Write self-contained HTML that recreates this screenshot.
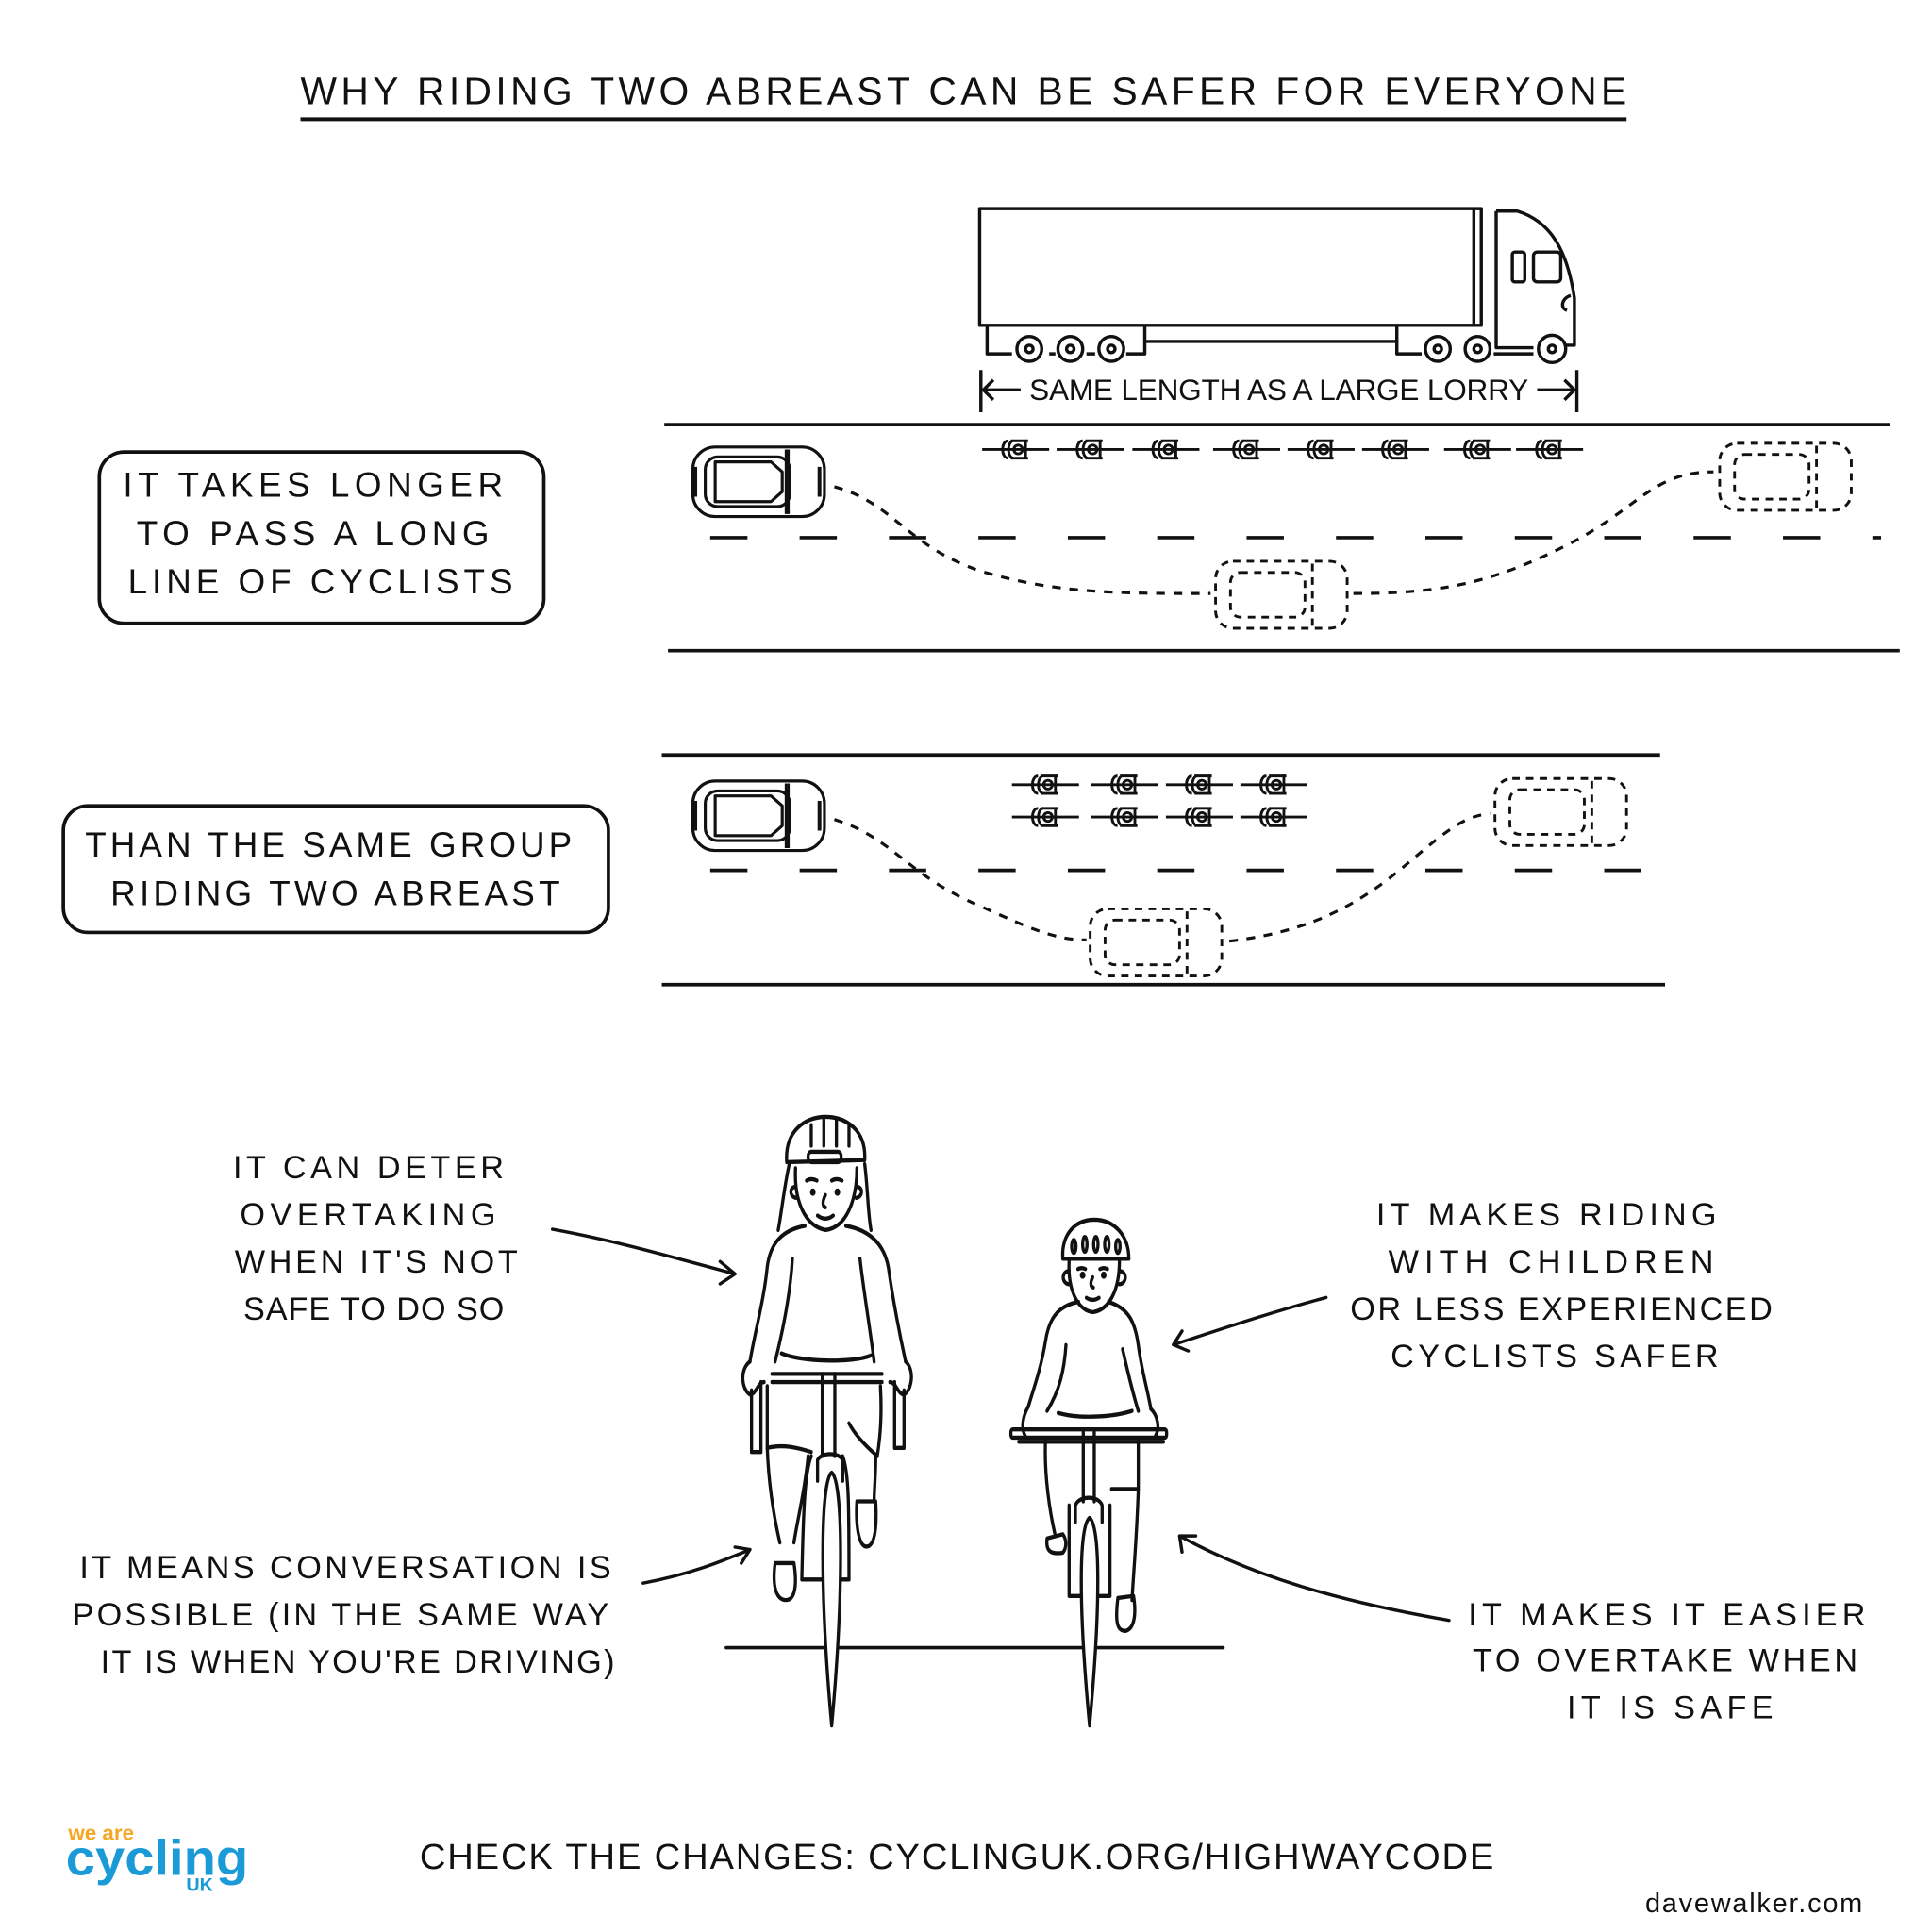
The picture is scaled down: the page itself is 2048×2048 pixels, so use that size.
<!DOCTYPE html>
<html><head><meta charset="utf-8">
<style>
html,body{margin:0;padding:0;background:#fff;}
svg{display:block;}
text{font-family:"Liberation Sans Narrow","Liberation Sans",sans-serif;fill:#111;}
</style></head>
<body>
<svg width="2048" height="2048" viewBox="0 0 1556 1556" xmlns="http://www.w3.org/2000/svg">
<defs>
<g id="car" fill="none" stroke="#111" stroke-width="2.4" stroke-linejoin="round">
 <rect x="2" y="2" width="106" height="56" rx="18"/>
 <rect x="12" y="10" width="68" height="40" rx="10"/>
 <path d="M20,14 H65 L74,22 V38 L65,46 H20 Z"/>
 <path d="M78,4 V56" stroke-width="4"/>
 <path d="M4,18 V42 M104,18 V42" stroke-width="3"/>
</g>
<g id="ghost" fill="none" stroke="#111" stroke-width="2.2" stroke-dasharray="6,5">
 <rect x="2" y="2" width="106" height="54" rx="14"/>
 <rect x="14" y="11" width="60" height="36" rx="8"/>
 <path d="M80,4 V54"/>
</g>
<g id="bike" fill="none" stroke="#111" stroke-width="2.2">
 <path d="M-27,0 H27"/>
 <path d="M-4,-7 H10 M-4,7 H10 M-6,-7 C-12,-7 -12,7 -6,7 M-2,-7 C-7,-6 -7,6 -2,7"/>
 <circle cx="2" cy="0" r="3.5"/>
 <path d="M8,-8 V8"/>
</g>
</defs>

<text x="776" y="84" font-size="31" text-anchor="middle" textLength="1068" lengthAdjust="spacing">WHY RIDING TWO ABREAST CAN BE SAFER FOR EVERYONE</text>
<path d="M242,96 H1310" stroke="#111" stroke-width="3"/>

<g fill="none" stroke="#111" stroke-width="2.6" stroke-linejoin="round">
 <rect x="789" y="168" width="404" height="94"/>
 <path d="M1187,168 V262"/>
 <path d="M1205,170 H1222 C1248,178 1262,200 1268,240 V278 H1260"/>
 <path d="M1205,170 V280 H1235"/>
 <rect x="1218" y="203" width="10" height="24" rx="2"/>
 <rect x="1235" y="203" width="22" height="24" rx="3"/>
 <path d="M1265,238 C1258,240 1256,248 1262,250"/>
 <path d="M795,262 V285 H815 M845,285 H850 M875,285 H882 M907,285 H922 V262 M922,275 H1125 V262 M1125,262 V285 H1145 M1203,285 H1235"/>
 <circle cx="829" cy="281" r="10"/><circle cx="829" cy="281" r="3"/>
 <circle cx="862" cy="281" r="10"/><circle cx="862" cy="281" r="3"/>
 <circle cx="895" cy="281" r="10"/><circle cx="895" cy="281" r="3"/>
 <circle cx="1158" cy="281" r="10"/><circle cx="1158" cy="281" r="3"/>
 <circle cx="1190" cy="281" r="10"/><circle cx="1190" cy="281" r="3"/>
 <circle cx="1250" cy="281" r="11"/><circle cx="1250" cy="281" r="3"/>
 <path d="M790,298 V332 M1270,298 V332"/>
 <path d="M792,314 H822 M800,306 L792,314 L800,322"/>
 <path d="M1238,314 H1268 M1260,306 L1268,314 L1260,322"/>
</g>
<text x="1030" y="322" font-size="24" text-anchor="middle" textLength="402" lengthAdjust="spacing">SAME LENGTH AS A LARGE LORRY</text>

<g fill="none" stroke="#111" stroke-width="2.8">
 <path d="M535,342 H1522"/>
 <path d="M538,524 H1530"/>
 <path d="M572,433 H1515" stroke-dasharray="30,42"/>
 <path d="M672,392 C720,405 730,440 790,460 C850,478 900,478 975,478" stroke-dasharray="7,7" stroke-width="2.4"/>
 <path d="M1090,478 C1160,478 1200,470 1260,440 C1320,410 1330,380 1380,380" stroke-dasharray="7,7" stroke-width="2.4"/>
</g>
<use href="#car" x="556" y="358"/>
<use href="#ghost" x="977" y="450"/>
<use href="#ghost" x="1383" y="355"/>
<use href="#bike" x="818" y="362"/><use href="#bike" x="878" y="362"/><use href="#bike" x="939" y="362"/><use href="#bike" x="1004" y="362"/>
<use href="#bike" x="1064" y="362"/><use href="#bike" x="1124" y="362"/><use href="#bike" x="1190" y="362"/><use href="#bike" x="1248" y="362"/>

<rect x="80" y="364" width="358" height="138" rx="20" fill="none" stroke="#111" stroke-width="2.8"/>
<text font-size="28" text-anchor="middle">
 <tspan x="258" y="400" textLength="306" lengthAdjust="spacing">IT TAKES LONGER</tspan>
 <tspan x="258" y="439" textLength="284" lengthAdjust="spacing">TO PASS A LONG</tspan>
 <tspan x="258" y="478" textLength="310" lengthAdjust="spacing">LINE OF CYCLISTS</tspan>
</text>

<g fill="none" stroke="#111" stroke-width="2.8">
 <path d="M533,608 H1337"/>
 <path d="M533,793 H1341"/>
 <path d="M572,701 H1335" stroke-dasharray="30,42"/>
 <path d="M672,660 C720,675 730,705 790,730 C830,748 850,757 875,757" stroke-dasharray="7,7" stroke-width="2.4"/>
 <path d="M990,758 C1060,750 1100,725 1140,690 C1170,665 1180,658 1200,655" stroke-dasharray="7,7" stroke-width="2.4"/>
</g>
<use href="#car" x="556" y="627"/>
<use href="#ghost" x="876" y="730"/>
<use href="#ghost" x="1202" y="625"/>
<use href="#bike" x="842" y="632"/><use href="#bike" x="906" y="632"/><use href="#bike" x="966" y="632"/><use href="#bike" x="1026" y="632"/>
<use href="#bike" x="842" y="658"/><use href="#bike" x="906" y="658"/><use href="#bike" x="966" y="658"/><use href="#bike" x="1026" y="658"/>

<rect x="51" y="649" width="439" height="102" rx="20" fill="none" stroke="#111" stroke-width="2.8"/>
<text font-size="28" text-anchor="middle">
 <tspan x="270" y="690" textLength="392" lengthAdjust="spacing">THAN THE SAME GROUP</tspan>
 <tspan x="270" y="729" textLength="362" lengthAdjust="spacing">RIDING TWO ABREAST</tspan>
</text>

<text font-size="26" text-anchor="middle">
 <tspan x="302" y="949" textLength="218" lengthAdjust="spacing">IT CAN DETER</tspan>
 <tspan x="302" y="987" textLength="206" lengthAdjust="spacing">OVERTAKING</tspan>
 <tspan x="308" y="1025" textLength="228" lengthAdjust="spacing">WHEN IT'S NOT</tspan>
 <tspan x="301" y="1063" textLength="210" lengthAdjust="spacing">SAFE TO DO SO</tspan>
</text>
<text font-size="26" text-anchor="middle">
 <tspan x="1251" y="987" textLength="274" lengthAdjust="spacing">IT MAKES RIDING</tspan>
 <tspan x="1255" y="1025" textLength="262" lengthAdjust="spacing">WITH CHILDREN</tspan>
 <tspan x="1262" y="1063" textLength="340" lengthAdjust="spacing">OR LESS EXPERIENCED</tspan>
 <tspan x="1252" y="1101" textLength="264" lengthAdjust="spacing">CYCLISTS SAFER</tspan>
</text>
<text font-size="26" text-anchor="middle">
 <tspan x="283" y="1271" textLength="428" lengthAdjust="spacing">IT MEANS CONVERSATION IS</tspan>
 <tspan x="279" y="1309" textLength="432" lengthAdjust="spacing">POSSIBLE (IN THE SAME WAY</tspan>
 <tspan x="288" y="1347" textLength="414" lengthAdjust="spacing">IT IS WHEN YOU'RE DRIVING)</tspan>
</text>
<text font-size="26" text-anchor="middle">
 <tspan x="1348" y="1309" textLength="320" lengthAdjust="spacing">IT MAKES IT EASIER</tspan>
 <tspan x="1346" y="1346" textLength="310" lengthAdjust="spacing">TO OVERTAKE WHEN</tspan>
 <tspan x="1345" y="1384" textLength="166" lengthAdjust="spacing">IT IS SAFE</tspan>
</text>

<g fill="none" stroke="#111" stroke-width="2.6" stroke-linecap="round" stroke-linejoin="round">
 <path d="M445,990 C500,1000 550,1015 592,1026 M580,1016 L592,1026 L580,1034"/>
 <path d="M1068,1045 C1020,1058 985,1070 945,1083 M952,1072 L945,1083 L957,1088"/>
 <path d="M518,1275 C555,1268 580,1258 604,1248 M592,1246 L604,1248 L597,1259"/>
 <path d="M1167,1305 C1080,1290 1010,1270 950,1237 M952,1250 L950,1237 L963,1237"/>
 <path d="M585,1327 H985" stroke-width="2.8"/>
</g>

<g transform="translate(577.4,881.3) scale(0.25325,0.33118)" fill="none" stroke="#111" stroke-width="10" stroke-linecap="round" stroke-linejoin="round">
 <path d="M222,165 C215,90 280,55 345,55 C415,55 475,90 470,160 Z" fill="#fff"/>
 <path d="M300,75 V125 M340,62 V125 M380,62 V125 M420,75 V125"/>
 <rect x="290" y="140" width="105" height="25" rx="10"/>
 <path d="M230,170 C215,220 205,290 195,330 M470,170 C480,230 480,290 490,330"/>
 <path d="M250,180 C245,260 280,320 345,330 C410,325 445,260 445,180"/>
 <path d="M250,225 C230,225 230,250 252,252 M445,225 C465,225 465,250 443,252"/>
 <circle cx="305" cy="238" r="4" fill="#111"/><circle cx="383" cy="238" r="4" fill="#111"/>
 <path d="M285,210 Q300,203 318,210 M365,210 Q380,203 398,210"/>
 <path d="M345,245 C335,260 335,272 345,275 M320,295 Q345,310 370,295"/>
 <path d="M280,320 C210,330 170,360 160,420 C150,500 120,580 105,650"/>
 <path d="M410,320 C480,330 530,360 545,420 C560,500 580,580 600,650"/>
 <path d="M240,400 C235,470 215,560 185,650 M455,400 C465,470 485,560 500,650"/>
 <path d="M205,630 C260,650 430,655 490,635"/>
 <path d="M105,650 C70,670 80,720 105,730 C125,730 130,700 150,700 M600,650 C630,670 620,720 595,730 C575,730 570,700 550,700"/>
 <path d="M110,720 V870 M140,700 V870 M110,870 H140 M565,700 V860 M595,720 V860 M565,860 H595"/>
 <path d="M175,680 H525 M175,700 H525"/>
 <path d="M335,680 V880 M375,680 V880"/>
 <path d="M160,710 V860 C210,850 260,860 300,870 M520,710 C525,780 520,830 510,880 C480,860 440,830 420,800"/>
 <path d="M160,860 C165,960 185,1040 200,1090 M290,880 C280,960 255,1040 245,1090"/>
 <path d="M185,1140 C175,1200 190,1230 220,1230 C250,1230 255,1190 245,1140 Z"/>
 <path d="M505,880 C505,930 500,960 500,990 M445,990 C440,1060 455,1100 475,1100 C500,1100 510,1060 505,990 Z"/>
 <path d="M300,880 C280,920 275,1000 270,1180 H420 C420,1000 420,920 400,880"/>
 <path d="M320,890 C330,870 390,870 400,890 V940 M320,890 V940"/>
 <path d="M365,920 C330,940 325,1200 365,1535 C405,1200 400,940 365,920 Z" fill="#fff"/>
 <path d="M1100,400 C1095,340 1140,305 1200,305 C1265,305 1310,345 1310,400 Z" fill="#fff"/>
 <ellipse cx="1135" cy="370" rx="7" ry="16"/><ellipse cx="1170" cy="365" rx="7" ry="18"/><ellipse cx="1205" cy="365" rx="7" ry="18"/><ellipse cx="1240" cy="365" rx="7" ry="18"/><ellipse cx="1275" cy="370" rx="7" ry="16"/>
 <path d="M1120,405 C1115,480 1150,525 1195,530 C1245,525 1280,480 1280,405"/>
 <path d="M1120,430 C1095,430 1095,460 1120,462 M1280,430 C1305,430 1305,460 1280,462"/>
 <circle cx="1163" cy="440" r="4" fill="#111"/><circle cx="1230" cy="440" r="4" fill="#111"/>
 <path d="M1148,425 Q1160,420 1172,425 M1218,425 Q1230,420 1242,425 M1195,445 C1187,458 1187,468 1197,470 M1175,495 Q1195,505 1215,495"/>
 <path d="M1150,505 C1080,515 1055,550 1045,600 C1030,670 1005,720 990,760"/>
 <path d="M1245,505 C1310,520 1330,555 1340,610 C1350,670 1370,720 1380,765"/>
 <path d="M1110,610 C1105,670 1090,720 1050,770 M1290,620 C1305,670 1320,720 1340,770"/>
 <path d="M1085,775 C1150,790 1260,785 1320,770"/>
 <path d="M990,760 C975,780 965,810 980,830 M1380,765 C1400,780 1410,810 1395,830"/>
 <rect x="935" y="815" width="495" height="20" rx="6"/>
 <path d="M960,845 H1420"/>
 <path d="M1165,815 V990 M1200,815 V990"/>
 <path d="M1045,840 C1040,930 1060,1020 1075,1070 M1340,840 V960 M1255,960 H1340 C1335,1080 1325,1160 1320,1230"/>
 <path d="M1050,1080 C1045,1110 1060,1120 1100,1115 C1115,1100 1110,1080 1100,1070 Z"/>
 <path d="M1275,1225 C1265,1290 1275,1305 1300,1305 C1325,1300 1335,1270 1325,1220 Z"/>
 <path d="M1140,1000 C1150,975 1215,975 1225,1000 V1040 M1140,1000 V1040"/>
 <path d="M1120,1000 V1220 H1250 V1000"/>
 <path d="M1185,1030 C1150,1050 1150,1250 1185,1535 C1220,1250 1220,1050 1185,1030 Z" fill="#fff"/>
</g>

<text x="55" y="1482" font-size="17" font-family="Liberation Sans,sans-serif" font-weight="bold" style="fill:#f5a623">we are</text>
<text x="53" y="1510" font-size="40" font-family="Liberation Sans,sans-serif" font-weight="bold" style="fill:#1a9ad6" textLength="147" lengthAdjust="spacingAndGlyphs">cycling</text>
<text x="150" y="1523" font-size="15" font-family="Liberation Sans,sans-serif" font-weight="bold" style="fill:#1a9ad6">UK</text>
<text x="338" y="1505" font-size="29" textLength="865" lengthAdjust="spacing">CHECK THE CHANGES: CYCLINGUK.ORG/HIGHWAYCODE</text>
<text x="1325" y="1540" font-size="22" textLength="175" lengthAdjust="spacing">davewalker.com</text>
</svg>
</body></html>
